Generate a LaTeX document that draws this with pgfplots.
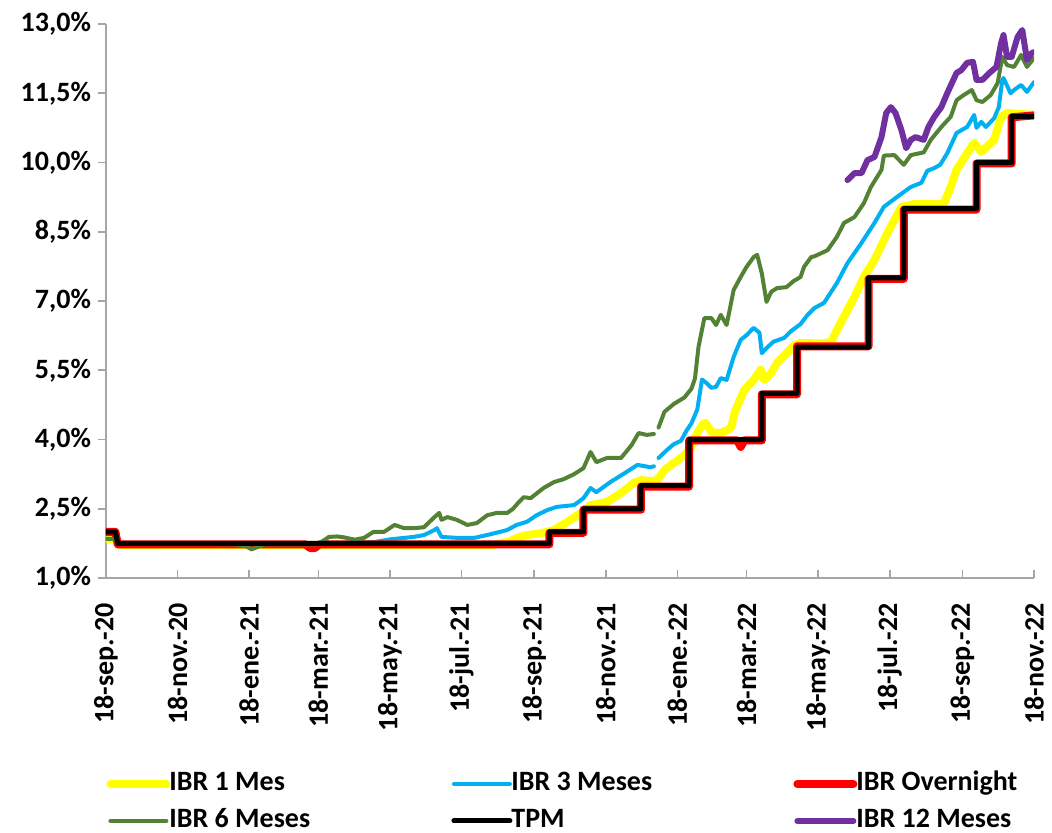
\documentclass[border=0pt]{standalone}
\usepackage{fontspec}
\setmainfont{Carlito}
\usepackage{pgfplots}
\pgfplotsset{compat=1.18}
\definecolor{cYel}{HTML}{FFFF00}
\definecolor{cBlue}{HTML}{00B0F0}
\definecolor{cRed}{HTML}{FF0000}
\definecolor{cGreen}{HTML}{548235}
\definecolor{cPurple}{HTML}{7030A0}
\definecolor{cAxis}{HTML}{A6A6A6}
\newcommand{\lbl}{\fontsize{14}{17}\selectfont\bfseries}
\newcommand{\legtxt}[1]{\hspace*{-1.5pt}\makebox[140pt][l]{#1}}
\begin{document}
\begin{tikzpicture}
\begin{axis}[
  scale only axis, width=464pt, height=277pt,
  xmin=0, xmax=791, ymin=1, ymax=13,
  axis x line*=bottom, axis y line*=left,
  axis line style={draw=cAxis, line width=0.8pt, -},
  tick style={draw=cAxis, line width=0.8pt},
  major tick length=4pt,
  tick align=outside,
  xtick style={yshift=4pt},
  /pgf/number format/assume math mode=true,
  ytick={1,2.5,4,5.5,7,8.5,10,11.5,13},
  yticklabel={\pgfmathprintnumber[fixed,fixed zerofill,precision=1,use comma]{\tick}\%},
  xtick={0,61,122,181,242,303,365,426,487,546,607,668,730,791},
  xticklabels={18-sep.-20,18-nov.-20,18-ene.-21,18-mar.-21,18-may.-21,18-jul.-21,18-sep.-21,18-nov.-21,18-ene.-22,18-mar.-22,18-may.-22,18-jul.-22,18-sep.-22,18-nov.-22},
  xticklabel style={rotate=90, anchor=east},
  xticklabel shift=5pt,
  tick label style={font=\lbl},
  unbounded coords=jump,
  every axis plot/.append style={line join=round, line cap=round, no markers},
  legend columns=3,
  legend cell align=left,
  legend style={at={(0,-0.344)}, anchor=north west, draw=none, fill=none,
    font=\lbl, column sep=0pt, row sep=3.5pt, inner sep=0pt,
    nodes={inner sep=1pt, text height=10pt, text depth=3pt}},
  legend image code/.code={\draw[#1] (0pt,0pt) -- (28pt,0pt);},
]
% IBR 1 Mes
\addplot[cYel, line width=4pt] coordinates {
(0,1.85) (8,1.85) (11,1.72) (330,1.72) (345,1.8) (350,1.87) (359,1.93) (371,1.97) (382,2.04) (396,2.26) (405,2.41) (413,2.58) (427,2.65) (439,2.84) (450,3.06) (456,3.12) (464,3.1) (470,3.12) (476,3.34) (484,3.49) (493,3.66) (499,3.84) (502,4.05) (508,4.31) (511,4.36) (516,4.16) (524,4.14) (530,4.21) (533,4.27) (536,4.6) (544,5.07) (552,5.29) (558,5.51) (561,5.29) (567,5.44) (572,5.66) (580,5.87) (587,6.05) (592,6.09) (610,6.08) (618,6.11) (626,6.52) (638,7.09) (646,7.52) (655,7.89) (666,8.47) (678,9.04) (689,9.1) (714,9.1) (720,9.47) (725,9.84) (734,10.2) (740,10.42) (746,10.23) (757,10.49) (763,10.99) (768,11.07) (791,11.03)
};
\addlegendentry{\legtxt{IBR 1 Mes}}
% IBR 3 Meses
\addplot[cBlue, line width=2pt] coordinates {
(0,1.85) (8,1.85) (11,1.74) (185,1.74) (229,1.78) (243,1.84) (262,1.89) (271,1.93) (280,2.04) (282,2.08) (286,1.89) (299,1.87) (314,1.87) (328,1.95) (342,2.04) (350,2.15) (359,2.22) (367,2.36) (376,2.47) (384,2.54) (399,2.58) (407,2.73) (413,2.95) (418,2.86) (430,3.08) (442,3.27) (453,3.45) (464,3.4) (467,3.42) (469,nan) (471,3.6) (478,3.77) (484,3.9) (490,3.97) (495,4.2) (499,4.35) (504,4.65) (508,5.3) (512,5.22) (516,5.12) (520,5.14) (524,5.33) (529,5.29) (535,5.79) (541,6.16) (546,6.26) (552,6.42) (557,6.31) (559,5.87) (563,5.98) (569,6.12) (578,6.2) (584,6.35) (592,6.5) (598,6.7) (604,6.85) (612,6.96) (623,7.39) (632,7.82) (644,8.26) (655,8.69) (663,9.04) (674,9.25) (686,9.47) (695,9.56) (700,9.82) (706,9.88) (711,9.95) (717,10.2) (725,10.64) (734,10.77) (740,11.03) (742,10.75) (746,10.88) (750,10.77) (757,10.96) (761,11.2) (764,11.79) (765,11.83) (771,11.5) (774,11.57) (780,11.68) (785,11.53) (791,11.74)
};
\addlegendentry{\legtxt{IBR 3 Meses}}
% IBR Overnight
\addplot[cRed, line width=4pt] coordinates {
(0,2.0) (8,2.0) (10,1.73) (170,1.73) (174,1.65) (178,1.65) (182,1.73) (378,1.73) (378,1.98) (407,1.98) (407,2.48) (456,2.48) (456,2.98) (497,2.98) (497,3.98) (538,3.98) (541,3.84) (544,3.98) (559,3.98) (559,4.98) (589,4.98) (589,6.02) (650,6.02) (650,7.48) (680,7.48) (680,8.98) (742,8.98) (742,9.98) (772,9.98) (772,10.98) (791,11.02)
};
\addlegendentry{\legtxt{IBR Overnight}}
% IBR 6 Meses
\addplot[cGreen, line width=2pt] coordinates {
(0,1.85) (8,1.85) (11,1.74) (110,1.73) (120,1.68) (124,1.62) (130,1.68) (136,1.73) (180,1.73) (186,1.82) (190,1.89) (197,1.9) (203,1.88) (212,1.83) (220,1.87) (228,2.0) (237,2.0) (246,2.15) (254,2.08) (263,2.08) (271,2.1) (280,2.32) (284,2.41) (286,2.26) (291,2.32) (299,2.26) (308,2.15) (316,2.19) (325,2.36) (333,2.41) (342,2.41) (347,2.5) (351,2.62) (356,2.75) (362,2.73) (373,2.95) (382,3.08) (390,3.14) (399,3.25) (407,3.38) (413,3.73) (418,3.51) (427,3.6) (439,3.6) (448,3.88) (454,4.14) (461,4.1) (467,4.12) (469,nan) (471,4.26) (476,4.6) (484,4.77) (493,4.91) (499,5.1) (502,5.32) (505,6.0) (510,6.63) (516,6.63) (520,6.48) (524,6.7) (529,6.48) (535,7.24) (541,7.52) (546,7.74) (552,7.95) (555,8.0) (559,7.6) (563,6.98) (567,7.2) (572,7.28) (580,7.3) (586,7.43) (592,7.52) (595,7.74) (601,7.95) (604,7.97) (615,8.1) (623,8.39) (629,8.69) (638,8.82) (646,9.12) (652,9.47) (661,9.84) (663,10.15) (672,10.16) (680,9.95) (686,10.16) (697,10.22) (703,10.49) (712,10.77) (720,10.99) (725,11.35) (731,11.46) (738,11.57) (742,11.35) (747,11.31) (754,11.46) (760,11.72) (764,12.29) (768,12.11) (774,12.07) (780,12.33) (785,12.07) (791,12.26)
};
\addlegendentry{\legtxt{IBR 6 Meses}}
% TPM
\addplot[black, line width=2.5pt] coordinates {
(0,2.0) (8,2.0) (10,1.75) (378,1.75) (378,2.0) (407,2.0) (407,2.5) (456,2.5) (456,3.0) (497,3.0) (497,4.0) (559,4.0) (559,5.0) (589,5.0) (589,6.0) (650,6.0) (650,7.5) (680,7.5) (680,9.0) (742,9.0) (742,10.0) (772,10.0) (772,11.0) (791,11.0)
};
\addlegendentry{\legtxt{TPM}}
% IBR 12 Meses
\addplot[cPurple, line width=3pt] coordinates {
(632,9.62) (638,9.77) (644,9.77) (649,10.05) (655,10.12) (661,10.55) (665,11.07) (669,11.2) (673,11.07) (678,10.7) (682,10.31) (686,10.49) (690,10.55) (697,10.49) (701,10.77) (706,10.99) (712,11.2) (717,11.5) (725,11.94) (729,12.0) (734,12.16) (739,12.18) (742,11.79) (747,11.79) (753,11.94) (759,12.07) (763,12.59) (765,12.76) (768,12.29) (772,12.29) (777,12.72) (781,12.87) (785,12.22) (789,12.37) (791,12.39)
};
\addlegendentry{\legtxt{IBR 12 Meses}}
\end{axis}
\pgfresetboundingbox
\path[use as bounding box] (-53pt,-127pt) rectangle (473pt,289pt);
\end{tikzpicture}
\end{document}
